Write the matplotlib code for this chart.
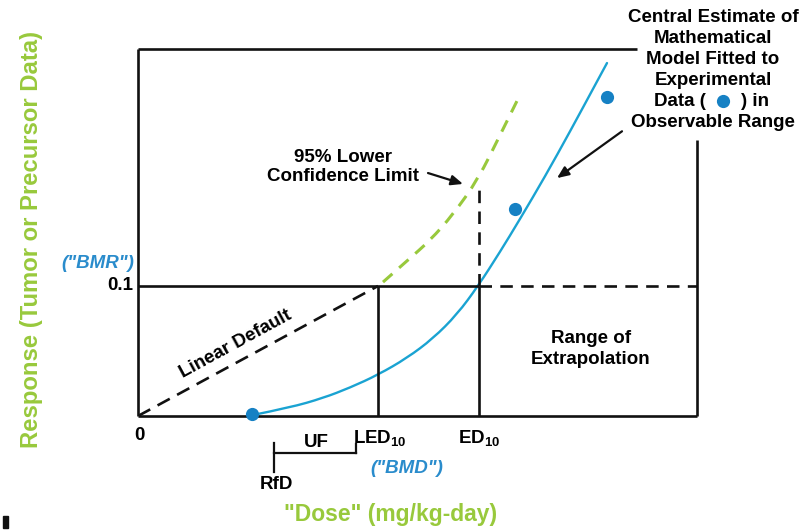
import numpy as np
import matplotlib
matplotlib.use("Agg")
import matplotlib.pyplot as plt
from matplotlib.patches import Rectangle, PathPatch
from matplotlib.path import Path

plt.rcParams['font.family'] = ['Liberation Sans', 'DejaVu Sans']
plt.rcParams['font.weight'] = 'bold'
plt.rcParams['mathtext.fontset'] = 'custom'
plt.rcParams['mathtext.rm'] = 'Liberation Sans:bold'
plt.rcParams['mathtext.it'] = 'Liberation Sans:bold:italic'
plt.rcParams['mathtext.bf'] = 'Liberation Sans:bold'
plt.rcParams['lines.scale_dashes'] = False

# ---- data (arbitrary dose units, response as fraction) ----
bmr = 0.1
led10 = 2.40
ed10 = 3.41
rfd = 1.36
uf_right = 2.18
x_max = 5.59
y_max = 0.2823

# central-estimate model curve
model_dose = [1.15, 1.52, 1.85, 2.12, 2.40, 2.69, 2.95, 3.19, 3.40, 3.62,
              3.82, 4.07, 4.32, 4.59, 4.69]
model_resp = [0.0008, 0.0065, 0.0138, 0.0218, 0.0317, 0.0446, 0.0596, 0.0781,
              0.0999, 0.1262, 0.1515, 0.1842, 0.2188, 0.2573, 0.2715]

# 95% lower confidence limit curve (portion above the BMR)
lcl_dose = [2.45, 2.70, 2.92, 3.15, 3.40, 3.62, 3.82]
lcl_resp = [0.103, 0.120, 0.135, 0.155, 0.182, 0.216, 0.247]

# experimental observations
obs_dose = [1.14, 3.77, 4.69]
obs_resp = [0.0015, 0.159, 0.245]

GREEN = '#98c93c'
BLUE_LINE = '#1aa3d2'
BLUE_DOT = '#1681c4'
BLUE_TXT = '#2a8ccc'
BLACK = '#111111'
FS = 13.5


def smooth_path(xs, ys):
    """Quadratic-Bezier path through the midpoints of consecutive points."""
    pts = list(zip(xs, ys))
    verts = [pts[0]]
    codes = [Path.MOVETO]
    for i in range(1, len(pts) - 1):
        mid = ((pts[i][0] + pts[i + 1][0]) / 2, (pts[i][1] + pts[i + 1][1]) / 2)
        verts += [pts[i], mid]
        codes += [Path.CURVE3, Path.CURVE3]
    verts.append(pts[-1])
    codes.append(Path.LINETO)
    return Path(verts, codes)


W, H = 809, 530
fig = plt.figure(figsize=(W / 100, H / 100), dpi=100)
ax = fig.add_axes([138 / W, (H - 416) / H, (697 - 138) / W, (416 - 49) / H])
ax.set_xlim(0, x_max)
ax.set_ylim(0, y_max)
ax.axis('off')

lw_box = 1.9
kw = dict(color=BLACK, lw=lw_box, clip_on=False, solid_capstyle='butt')

# open frame
ax.plot([0, 0], [0, y_max], **kw)
ax.plot([0, x_max], [0, 0], **kw)
ax.plot([0, 4.99], [y_max, y_max], **kw)
ax.plot([x_max, x_max], [0, 0.2123], **kw)

# BMR level and dose markers
ax.plot([0, ed10], [bmr, bmr], **kw)
ax.plot([ed10, x_max], [bmr, bmr], color=BLACK, lw=lw_box, dashes=(9, 6), clip_on=False)
ax.plot([led10, led10], [0, bmr], **kw)
ax.plot([ed10, ed10], [0, bmr], **kw)
ax.plot([ed10, ed10], [bmr, 0.176], color=BLACK, lw=lw_box, dashes=(9, 6))

# linear default extrapolation
ax.plot([0, led10], [0, bmr], color=BLACK, lw=lw_box, dashes=(10, 6))

# curves
lcl_patch = PathPatch(smooth_path(lcl_dose, lcl_resp), fill=False, edgecolor=GREEN,
                      lw=2.2, linestyle=(0, (9, 6.5)))
ax.add_patch(lcl_patch)
model_patch = PathPatch(smooth_path(model_dose, model_resp), fill=False,
                        edgecolor=BLUE_LINE, lw=1.7, capstyle='round')
ax.add_patch(model_patch)
ax.plot(obs_dose, obs_resp, 'o', color=BLUE_DOT, ms=9.5, mec='none', clip_on=False)

# axis tick-style labels
ax.text(0.01, -0.015, '0', ha='center', va='center', fontsize=FS)
ax.text(-0.05, bmr, '0.1', ha='right', va='center', fontsize=FS)
ax.text(-0.04, 0.117, '("BMR")', ha='right', va='center', fontsize=FS,
        style='italic', color=BLUE_TXT)
ax.text(led10 + 0.02, -0.017, r'LED$_{10}$', ha='center', va='center', fontsize=FS)
ax.text(ed10, -0.017, r'ED$_{10}$', ha='center', va='center', fontsize=FS)

# uncertainty-factor bracket down to the RfD
ax.plot([rfd, uf_right], [-0.0285, -0.0285], color=BLACK, lw=1.6, clip_on=False)
ax.plot([rfd, rfd], [-0.0208, -0.0431], color=BLACK, lw=1.6, clip_on=False)
ax.plot([uf_right, uf_right], [-0.0215, -0.0285], color=BLACK, lw=1.6, clip_on=False)
ax.text(1.78, -0.0205, 'UF', ha='center', va='center', fontsize=FS)
ax.text(rfd + 0.02, -0.0525, 'RfD', ha='center', va='center', fontsize=FS)
ax.text(2.69, -0.040, '("BMD")', ha='center', va='center', fontsize=FS,
        style='italic', color=BLUE_TXT)

# in-plot annotations
ax.text(0.98, 0.055, 'Linear Default', rotation=28.6, ha='center', va='center',
        fontsize=FS, rotation_mode='anchor')
ax.text(4.53, 0.0515, 'Range of\nExtrapolation', ha='center', va='center',
        fontsize=FS, linespacing=1.3)
ax.text(2.05, 0.1915, '95% Lower\nConfidence Limit', ha='center', va='center',
        fontsize=FS, linespacing=1.22)
arrow = dict(arrowstyle='-|>,head_length=0.7,head_width=0.3', color=BLACK, lw=1.6,
             shrinkA=0, shrinkB=0)
ax.annotate('', xy=(3.25, 0.1785), xytext=(2.90, 0.1869), arrowprops=arrow)
ax.annotate('', xy=(4.19, 0.183), xytext=(4.84, 0.219), arrowprops=arrow)

# explanatory note for the fitted model, with an inline data-point symbol
ax.text(5.75, 0.2823, 'Central Estimate of\nMathematical\nModel Fitted to\nExperimental',
        ha='center', va='center', fontsize=FS, linespacing=1.29, clip_on=False)
ax.text(5.68, 0.2423, 'Data (', ha='right', va='center', fontsize=FS, clip_on=False)
ax.plot([5.85], [0.2423], 'o', color=BLUE_DOT, ms=9.5, mec='none', clip_on=False)
ax.text(6.03, 0.2423, ') in', ha='left', va='center', fontsize=FS, clip_on=False)
ax.text(5.75, 0.2254, 'Observable Range', ha='center', va='center', fontsize=FS,
        clip_on=False)

# axis titles
fig.text(391 / W, 1 - 515 / H, '"Dose" (mg/kg-day)', ha='center', va='center',
         fontsize=16.5, color=GREEN)
fig.text(32 / W, 1 - 239 / H, 'Response (Tumor or Precursor Data)', ha='center',
         va='center', rotation=90, fontsize=17.2, color=GREEN)

# small corner mark
fig.patches.append(Rectangle((3 / W, 2 / H), 5 / W, 12 / H, transform=fig.transFigure,
                             color=BLACK, figure=fig))

fig.savefig('out.png', dpi=100)
